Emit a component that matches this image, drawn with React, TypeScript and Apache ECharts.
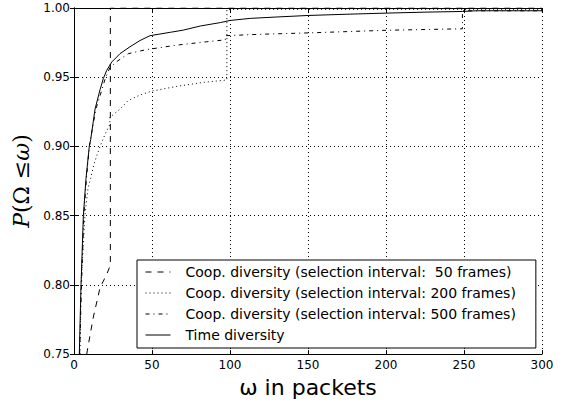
import React, { useEffect, useRef } from "react";
import * as echarts from "echarts";

const legendNames = [
  "Coop. diversity (selection interval:  50 frames)",
  "Coop. diversity (selection interval: 200 frames)",
  "Coop. diversity (selection interval: 500 frames)",
  "Time diversity",
];

const xTicks = [0, 50, 100, 150, 200, 250, 300];
const yTicks = [0.75, 0.8, 0.85, 0.9, 0.95, 1.0];

const dash50X = [8.2, 8.6, 12.4, 16.7, 21, 22.7, 23.3, 23.3, 300];
const dash50Y = [0.75, 0.753, 0.7768, 0.798, 0.8077, 0.8125, 0.813, 1.0, 1.0];

const dot200X = [3.8, 4.5, 7, 9, 10.7, 13, 16.7, 20, 23, 23, 29.5, 34.6, 42, 50, 66, 83, 98, 98, 300];
const dot200Y = [0.75, 0.8, 0.85, 0.87, 0.877, 0.888, 0.9, 0.909, 0.916, 0.921, 0.927, 0.933, 0.937, 0.94, 0.9434, 0.9463, 0.948, 0.999, 0.999];

const dd500X = [3.6, 4.8, 6.3, 8, 9.8, 14, 17.9, 20, 23, 27.4, 34.8, 46.6, 50, 66, 85, 97, 97, 119, 150, 200, 249, 249, 300];
const dd500Y = [0.75, 0.8, 0.85, 0.877, 0.9, 0.927, 0.941, 0.949, 0.957, 0.9613, 0.967, 0.97, 0.9705, 0.9732, 0.9756, 0.977, 0.98, 0.981, 0.982, 0.9839, 0.985, 0.998, 0.998];

const timeX = [3.4, 4.5, 6, 7.7, 9.8, 10.7, 13.5, 16.7, 18.8, 21, 24.2, 29.5, 35.9, 42.3, 48.7, 54, 62, 70, 81, 94, 100, 113, 130, 150, 175, 200, 225, 249, 258, 300];
const timeY = [0.75, 0.8, 0.85, 0.877, 0.9, 0.905, 0.927, 0.941, 0.949, 0.955, 0.961, 0.967, 0.972, 0.9765, 0.98, 0.981, 0.9825, 0.984, 0.987, 0.9895, 0.991, 0.9925, 0.9935, 0.9946, 0.9955, 0.9963, 0.997, 0.9975, 0.998, 0.998];

const zip = (xs: number[], ys: number[]) => xs.map((x, i) => [x, ys[i]]);

const FONT = "DejaVu Sans";

export default function App() {
  const ref = useRef<HTMLDivElement>(null);
  useEffect(() => {
    document.body.style.margin = "0";
    const chart = echarts.init(ref.current!, null, { renderer: "svg" });
    const frameAxis = {
      axisLine: { show: true, lineStyle: { color: "#000", width: 1 } },
      axisTick: { show: true, inside: true, length: 4, lineStyle: { color: "#000" } },
    };
    const mk = (name: string, data: number[][], type: any) => ({
      name,
      type: "line",
      data,
      symbol: "none",
      showSymbol: false,
      lineStyle: { color: "#000", width: 1, type },
      itemStyle: { color: "#000" },
      clip: true,
    });
    chart.setOption({
      animation: false,
      backgroundColor: "#fff",
      grid: { left: 74, right: 24, top: 8, bottom: 46, containLabel: false },
      legend: {
        orient: "vertical",
        left: 137,
        top: 260,
        data: legendNames,
        backgroundColor: "#fff",
        borderColor: "#000",
        borderWidth: 1,
        borderRadius: 0,
        padding: [5, 20, 6, 8],
        itemWidth: 25,
        itemHeight: 14,
        itemGap: 7,
        selectedMode: false,
        itemStyle: { opacity: 0 },
        lineStyle: { width: 1, color: "#000" },
        textStyle: { fontFamily: FONT, fontSize: 14, color: "#000", padding: [0, 0, 0, 10] },
      },
      xAxis: [
        {
          type: "value",
          min: xTicks[0],
          max: xTicks[xTicks.length - 1],
          interval: 50,
          position: "bottom",
          ...frameAxis,
          axisLabel: { fontFamily: FONT, fontSize: 12, color: "#000", margin: 5 },
          splitLine: { show: true, lineStyle: { color: "#000", width: 1, type: [1, 3] } },
          name: "ω in packets",
          nameLocation: "middle",
          nameGap: 14,
          nameTextStyle: { fontFamily: FONT, fontSize: 22, color: "#000" },
        },
        {
          type: "value",
          min: xTicks[0],
          max: xTicks[xTicks.length - 1],
          interval: 50,
          position: "top",
          ...frameAxis,
          axisLabel: { show: false },
          splitLine: { show: false },
        },
      ],
      yAxis: [
        {
          type: "value",
          min: yTicks[0],
          max: yTicks[yTicks.length - 1],
          interval: 0.05,
          position: "left",
          ...frameAxis,
          axisLabel: {
            fontFamily: FONT,
            fontSize: 12,
            color: "#000",
            margin: 4,
            formatter: (v: number) => v.toFixed(2),
          },
          splitLine: { show: true, lineStyle: { color: "#000", width: 1, type: [1, 3] } },
          name: "{i|P}(Ω ≤{i|ω})",
          nameLocation: "middle",
          nameRotate: 90,
          nameGap: 42,
          nameTextStyle: {
            fontFamily: "DejaVu Serif",
            fontSize: 22,
            color: "#000",
            rich: {
              i: { fontFamily: "DejaVu Serif", fontStyle: "italic", fontSize: 22, color: "#000" },
            },
          },
        },
        {
          type: "value",
          min: yTicks[0],
          max: yTicks[yTicks.length - 1],
          interval: 0.05,
          position: "right",
          ...frameAxis,
          axisLabel: { show: false },
          splitLine: { show: false },
        },
      ],
      series: [
        mk(legendNames[0], zip(dash50X, dash50Y), [6, 6]),
        mk(legendNames[1], zip(dot200X, dot200Y), [1, 3]),
        mk(legendNames[2], zip(dd500X, dd500Y), [4, 4, 1, 4]),
        mk(legendNames[3], zip(timeX, timeY), "solid"),
      ],
    });
    return () => chart.dispose();
  }, []);
  return <div ref={ref} style={{ width: 566, height: 403 }} />;
}
